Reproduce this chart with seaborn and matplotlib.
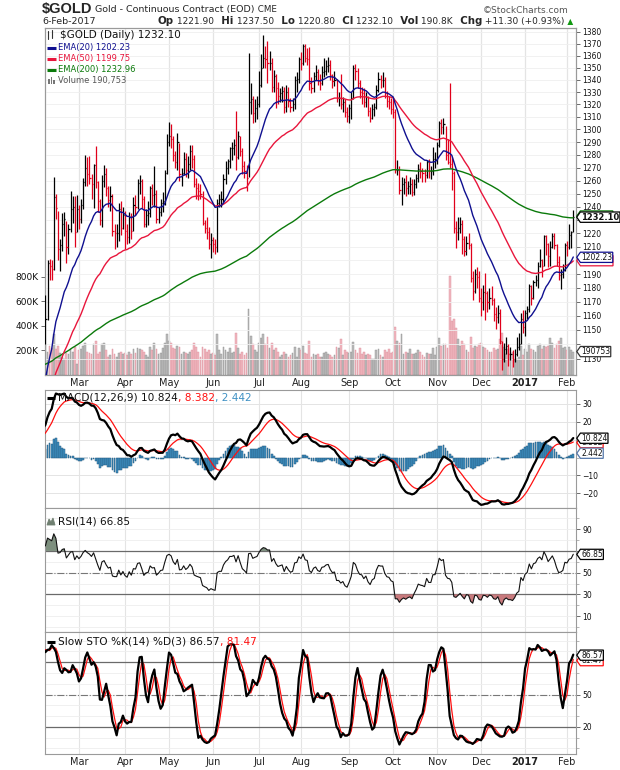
import numpy as np
import pandas as pd
import matplotlib
matplotlib.use('Agg')
import matplotlib.pyplot as plt
import matplotlib.ticker as mticker
from matplotlib.path import Path
import seaborn as sns

sns.set_theme(style='white')
plt.rcParams['font.family'] = ['DejaVu Sans']

W, H = 620, 770

# warm-up sessions off the left edge (14-Dec-2015 .. 4-Feb-2016)
warm_high = [1071, 1068, 1080, 1078, 1068, 1083, 1082, 1077, 1078, 1076, 1073, 1068, 1065,
             1082, 1083, 1095, 1112, 1113, 1101, 1096, 1091, 1092, 1092, 1099, 1107, 1108, 1102,
             1110, 1123, 1128, 1127, 1122,
             1131, 1133, 1147, 1160]
warm_low = [1056, 1058, 1060, 1047, 1048, 1065, 1071, 1065, 1068, 1066, 1063, 1057, 1052,
            1060, 1070, 1076, 1091, 1095, 1093, 1082, 1079, 1072, 1075, 1080, 1085, 1095, 1089,
            1094, 1104, 1115, 1110, 1104,
            1114, 1121, 1126, 1140]
warm_close = [1062, 1063, 1076, 1050, 1065, 1080, 1075, 1069, 1075, 1068, 1069, 1059, 1061,
              1075, 1078, 1091, 1108, 1098, 1096, 1086, 1087, 1073, 1090, 1089, 1106, 1097, 1096,
              1107, 1120, 1124, 1114, 1118,
              1128, 1128, 1141, 1155]

# visible sessions 5-Feb-2016 .. 6-Feb-2017, one row of numbers per month
high = [1175, 1200, 1201, 1200, 1263, 1250, 1237, 1216, 1235, 1236, 1229, 1227, 1252, 1248, 1248, 1249,
        1241, 1246, 1262, 1280, 1278, 1279, 1265, 1273, 1287, 1260, 1246, 1264, 1272, 1270, 1256, 1256, 1250, 1227, 1227, 1243, 1244, 1240,
        1237, 1227, 1236, 1235, 1247, 1249, 1261, 1264, 1261, 1248, 1238, 1244, 1256, 1257, 1271, 1253, 1240, 1246, 1251, 1268, 1296,
        1306, 1304, 1295, 1283, 1297, 1289, 1270, 1282, 1281, 1279, 1288, 1288, 1280, 1262, 1258, 1257, 1252, 1230, 1232, 1225, 1220,
        1217, 1216, 1246, 1250, 1252, 1265, 1275, 1277, 1286, 1290, 1292, 1315, 1299, 1295, 1285, 1275, 1272, 1362, 1337, 1327, 1324, 1327,
        1347, 1361, 1377, 1368, 1372, 1364, 1358, 1348, 1345, 1338, 1333, 1335, 1334, 1336, 1334, 1325, 1325, 1343, 1346, 1359,
        1363, 1370, 1370, 1366, 1367, 1342, 1346, 1352, 1349, 1345, 1351, 1358, 1356, 1359, 1356, 1345, 1347, 1341, 1330, 1345, 1326, 1324, 1318,
        1320, 1330, 1352, 1353, 1350, 1340, 1334, 1333, 1330, 1327, 1318, 1320, 1321, 1336, 1346, 1344, 1346, 1342, 1331, 1327, 1325,
        1326, 1316, 1276, 1271, 1263, 1262, 1264, 1260, 1263, 1261, 1261, 1265, 1273, 1274, 1270, 1269, 1276, 1277, 1271, 1286, 1282,
        1290, 1307, 1308, 1309, 1303, 1292, 1337, 1278, 1267, 1229, 1232, 1232, 1230, 1218, 1218, 1220, 1213, 1192, 1194, 1195, 1192,
        1180, 1182, 1191, 1178, 1180, 1181, 1173, 1166, 1168, 1165, 1142, 1141, 1145, 1140, 1138, 1136, 1137, 1145, 1148, 1162, 1164,
        1164, 1167, 1183, 1182, 1186, 1189, 1199, 1208, 1201, 1219, 1219, 1213, 1214, 1220, 1220, 1212, 1203, 1194, 1197, 1213,
        1214, 1227, 1222, 1237.5]
low = [1140, 1157, 1186, 1186, 1193, 1231, 1200, 1192, 1207, 1218, 1198, 1205, 1221, 1228, 1210, 1221,
       1223, 1228, 1238, 1256, 1256, 1257, 1246, 1239, 1254, 1236, 1226, 1225, 1255, 1248, 1240, 1237, 1218, 1208, 1210, 1214, 1219, 1223,
       1208, 1212, 1213, 1216, 1222, 1234, 1238, 1250, 1239, 1225, 1225, 1226, 1232, 1241, 1240, 1228, 1228, 1233, 1236, 1241, 1265,
       1287, 1285, 1275, 1270, 1268, 1260, 1256, 1264, 1263, 1262, 1268, 1270, 1255, 1246, 1245, 1246, 1226, 1220, 1216, 1208, 1202,
       1206, 1205, 1206, 1240, 1240, 1243, 1257, 1265, 1270, 1276, 1280, 1268, 1277, 1279, 1265, 1262, 1252, 1263, 1312, 1305, 1306, 1308,
       1318, 1334, 1350, 1350, 1337, 1348, 1330, 1330, 1317, 1320, 1322, 1322, 1313, 1314, 1318, 1314, 1315, 1316, 1330, 1337,
       1348, 1352, 1355, 1352, 1332, 1329, 1330, 1340, 1336, 1332, 1336, 1342, 1344, 1346, 1340, 1333, 1335, 1322, 1319, 1316, 1314, 1310, 1306,
       1305, 1308, 1324, 1340, 1333, 1325, 1320, 1318, 1318, 1311, 1306, 1308, 1311, 1316, 1330, 1333, 1334, 1325, 1318, 1316, 1312,
       1309, 1266, 1264, 1250, 1241, 1250, 1248, 1250, 1250, 1248, 1249, 1254, 1259, 1262, 1259, 1259, 1262, 1262, 1261, 1264, 1270,
       1273, 1286, 1296, 1296, 1276, 1273, 1270, 1253, 1220, 1209, 1215, 1220, 1205, 1203, 1204, 1208, 1184, 1171, 1176, 1180, 1170,
       1160, 1164, 1157, 1163, 1165, 1168, 1156, 1151, 1155, 1140, 1122, 1128, 1133, 1125, 1129, 1124, 1128, 1132, 1136, 1140, 1148,
       1146, 1158, 1163, 1168, 1172, 1181, 1180, 1195, 1188, 1196, 1204, 1195, 1196, 1209, 1208, 1196, 1186, 1179, 1187, 1192,
       1203, 1208, 1209, 1220.8]
close = [1158, 1198, 1196, 1194, 1247, 1239, 1208, 1211, 1227, 1231, 1210, 1223, 1238, 1240, 1221, 1238,
         1231, 1241, 1259, 1270, 1265, 1262, 1257, 1272, 1259, 1244, 1230, 1260, 1265, 1254, 1245, 1248, 1222, 1220, 1220, 1238, 1224, 1234,
         1222, 1217, 1232, 1222, 1241, 1240, 1258, 1260, 1246, 1227, 1234, 1235, 1254, 1249, 1250, 1231, 1236, 1243, 1244, 1266, 1290,
         1295, 1292, 1280, 1274, 1290, 1265, 1266, 1277, 1268, 1273, 1283, 1277, 1257, 1254, 1252, 1250, 1228, 1224, 1221, 1212, 1215,
         1212, 1210, 1243, 1246, 1246, 1261, 1270, 1275, 1285, 1285, 1288, 1278, 1295, 1283, 1271, 1267, 1262, 1322, 1324, 1313, 1317, 1320,
         1336, 1350, 1358, 1357, 1354, 1354, 1334, 1343, 1333, 1327, 1329, 1331, 1318, 1330, 1323, 1318, 1320, 1340, 1341, 1357,
         1354, 1368, 1358, 1357, 1337, 1333, 1343, 1346, 1339, 1337, 1346, 1347, 1351, 1352, 1344, 1339, 1340, 1325, 1325, 1320, 1322, 1314, 1311,
         1317, 1325, 1350, 1347, 1337, 1330, 1329, 1322, 1326, 1315, 1309, 1316, 1318, 1332, 1341, 1340, 1340, 1329, 1323, 1322, 1316,
         1314, 1268, 1268, 1253, 1257, 1259, 1254, 1256, 1257, 1251, 1257, 1262, 1269, 1267, 1266, 1264, 1274, 1267, 1267, 1277, 1277,
         1288, 1305, 1302, 1304, 1280, 1274, 1273, 1266, 1224, 1221, 1224, 1227, 1216, 1207, 1213, 1211, 1187, 1178, 1190, 1188, 1173,
         1170, 1177, 1176, 1170, 1173, 1171, 1161, 1159, 1162, 1142, 1130, 1137, 1139, 1133, 1133, 1130, 1133, 1138, 1140, 1158, 1152,
         1162, 1165, 1181, 1173, 1184, 1186, 1196, 1200, 1196, 1218, 1212, 1203, 1210, 1218, 1211, 1199, 1189, 1190, 1193, 1211,
         1210, 1219, 1220.8, 1232.1]
volume_k = [250, 190, 240, 220, 330, 210, 240, 180, 150, 130, 180, 170, 210, 190, 230, 90,
            200, 210, 240, 260, 190, 180, 170, 250, 280, 170, 190, 250, 260, 200, 150, 160, 210, 170, 150, 180, 190, 170,
            180, 160, 190, 170, 210, 180, 220, 210, 200, 190, 160, 150, 230, 200, 260, 210, 170, 180, 220, 260, 330,
            280, 260, 220, 210, 240, 230, 170, 190, 180, 170, 190, 200, 260, 230, 190, 150, 230, 210, 190, 200, 170,
            180, 160, 330, 200, 170, 230, 200, 190, 220, 180, 190, 340, 220, 170, 190, 160, 180, 540, 320, 250, 200, 190,
            260, 300, 330, 250, 310, 220, 260, 200, 220, 190, 150, 160, 190, 170, 150, 160, 180, 230, 150, 220,
            200, 240, 180, 170, 280, 150, 170, 160, 170, 150, 150, 180, 190, 170, 160, 150, 160, 230, 220, 290, 160, 200, 190,
            180, 190, 270, 200, 180, 220, 170, 190, 160, 170, 160, 130, 130, 200, 210, 160, 150, 200, 190, 210, 180,
            190, 390, 280, 260, 330, 170, 190, 180, 210, 170, 170, 180, 200, 190, 160, 150, 180, 170, 170, 220, 160,
            230, 300, 240, 250, 250, 220, 810, 440, 460, 380, 290, 240, 280, 250, 200, 190, 310, 220, 240, 230, 250,
            260, 230, 220, 200, 190, 190, 220, 200, 210, 290, 340, 230, 170, 210, 180, 190, 120, 130, 150, 240, 160,
            210, 190, 250, 210, 200, 190, 240, 250, 210, 240, 230, 240, 300, 260, 220, 250, 280, 300, 220, 230,
            200, 230, 200, 190.753]

ema50_seed = 1085
ema200_seed = 1140

holidays = ['2015-12-25', '2016-01-01', '2016-01-18', '2016-02-15', '2016-03-25', '2016-05-30',
            '2016-07-04', '2016-09-05', '2016-11-24', '2016-12-26', '2017-01-02', '2017-01-16']
month_labels = ['Mar', 'Apr', 'May', 'Jun', 'Jul', 'Aug', 'Sep', 'Oct', 'Nov', 'Dec', '2017', 'Feb']
price_ticks = list(range(1130, 1390, 10))
hidden_price_labels = [1140, 1200, 1230]   # sit under the value tags
vol_ticks = [200000, 400000, 600000, 800000]
vol_labels = ['200K', '400K', '600K', '800K']

# ---------------------------------------------------------------- frame
days = pd.bdate_range('2015-12-14', '2017-02-06')
days = days[~days.isin(pd.to_datetime(holidays))]
n_warm = len(warm_close)
df = pd.DataFrame({'date': days,
                   'high': np.array(warm_high + high, float),
                   'low': np.array(warm_low + low, float),
                   'close': np.array(warm_close + close, float)})
df['x'] = np.arange(len(df)) - n_warm
c = df['close']


def seeded_ema(s, span, seed):
    s2 = pd.concat([pd.Series([float(seed)]), s], ignore_index=True)
    return s2.ewm(span=span, adjust=False).mean().iloc[1:].to_numpy()


df['ema20'] = c.ewm(span=20, adjust=False).mean()
df['ema50'] = seeded_ema(c, 50, ema50_seed)
df['ema200'] = seeded_ema(c, 200, ema200_seed)
df['macd'] = c.ewm(span=12, adjust=False).mean() - c.ewm(span=26, adjust=False).mean()
df['sig'] = df['macd'].ewm(span=9, adjust=False).mean()
df['histo'] = df['macd'] - df['sig']
delta = c.diff()
gain = delta.clip(lower=0).ewm(alpha=1 / 14, adjust=False).mean()
loss = (-delta.clip(upper=0)).ewm(alpha=1 / 14, adjust=False).mean()
df['rsi'] = 100 - 100 / (1 + gain / loss)
hh = df['high'].rolling(14).max()
ll = df['low'].rolling(14).min()
fast_k = 100 * (c - ll) / (hh - ll)
df['slow_k'] = fast_k.rolling(3).mean()
df['slow_d'] = df['slow_k'].rolling(3).mean()
df['up'] = c >= c.shift(1)

vis = df[df['x'] >= 0].copy()
vis['volume'] = np.array(volume_k) * 1000
line_df = df[df['x'] >= -3]
LX = line_df['x'].to_numpy()
month_x = vis.groupby(vis['date'].dt.to_period('M'))['x'].min().to_numpy()[1:]
XLO, XHI = -0.2, 253.3

# ---------------------------------------------------------------- figure
fig = plt.figure(figsize=(W / 100, H / 100), dpi=100)


def rect(x0, y0, x1, y1):
    return [x0 / W, 1 - y1 / H, (x1 - x0) / W, (y1 - y0) / H]


GRID = '#e4e4e4'
EDGE = '#9a9a9a'


def frame(ax):
    ax.set_xlim(XLO, XHI)
    ax.set_xticks(month_x)
    ax.set_xticklabels([])
    ax.tick_params(axis='x', length=0)
    ax.grid(False)
    for x in month_x:
        ax.axvline(x, color=GRID, lw=0.8, zorder=0)
    for s in ax.spines.values():
        s.set_color(EDGE)
        s.set_linewidth(0.8)
    ax.yaxis.tick_right()
    ax.tick_params(axis='y', which='major', direction='out', length=3, width=0.6,
                   colors='#555555', labelcolor='#111111', labelsize=5.5, pad=1.5)
    ax.tick_params(axis='y', which='minor', direction='out', length=2, width=0.5, colors='#999999')


def month_labels_on(ax):
    ax.set_xticklabels(month_labels, fontsize=7, color='#222222')
    ax.tick_params(axis='x', pad=2.5)
    for lab in ax.get_xticklabels():
        if lab.get_text() == '2017':
            lab.set_fontweight('bold')


def tag_shape(x0, y0, width, height, mutation_size):
    pad = 0.08 * mutation_size
    x0, y0 = x0 - pad, y0 - pad
    x1, y1 = x0 + width + 2 * pad, y0 + height + 2 * pad
    tip = 0.35 * (y1 - y0)
    ym = (y0 + y1) / 2
    verts = [(x0 - tip, ym), (x0, y0), (x1, y0), (x1, y1), (x0, y1), (x0 - tip, ym), (x0 - tip, ym)]
    return Path(verts, closed=True)


def tag(ax, y, text, edge, bold=False, ytrans=None, size=5.5):
    ax.annotate(text, xy=(1, y), xycoords=(ax.transAxes, ytrans or ax.transData),
                xytext=(3.6, 0), textcoords='offset points', ha='left', va='center',
                fontsize=size, fontweight='bold' if bold else 'normal', color='#111111',
                bbox=dict(boxstyle=tag_shape, fc='white', ec=edge, lw=0.9),
                annotation_clip=False, zorder=20)


# ---- price + volume panel
main_rect = rect(45, 28, 576, 375)
ax_vol = fig.add_axes(main_rect)
ax = fig.add_axes(main_rect)
ax.patch.set_alpha(0)

frame(ax_vol)
ax_vol.bar(vis['x'], vis['volume'], width=0.85,
           color=np.where(vis['up'], '#bdbdbd', '#f2b8c0'),
           edgecolor=np.where(vis['up'], '#8f8f8f', '#d9909b'), linewidth=0.3)
ax_vol.set_ylim(0, 2.826e6)
ax_vol.yaxis.tick_left()
ax_vol.set_yticks(vol_ticks)
ax_vol.set_yticklabels(vol_labels)
ax_vol.tick_params(axis='y', labelsize=6.5, length=3, pad=1.5, direction='out', colors='#555555', labelcolor='#111111')

frame(ax)
ax.set_yscale('log')
ax.set_ylim(1118.8, 1383.1)
ax.set_yticks(price_ticks)
ax.set_yticklabels(['' if p in hidden_price_labels else str(p) for p in price_ticks])
ax.yaxis.set_minor_locator(mticker.NullLocator())
for p in price_ticks:
    ax.axhline(p, color='#efefef', lw=0.6, zorder=0)
bar_col = np.where(vis['up'], '#000000', '#e0001b')
ax.vlines(vis['x'], vis['low'], vis['high'], colors=bar_col, lw=0.9, zorder=3)
ax.hlines(vis['close'], vis['x'], vis['x'] + 0.55, colors=bar_col, lw=0.9, zorder=3)
sns.lineplot(x=LX, y=line_df['ema200'].to_numpy(), ax=ax, color='#0b7a0b', lw=1.0, zorder=4)
sns.lineplot(x=LX, y=line_df['ema50'].to_numpy(), ax=ax, color='#e8163c', lw=1.0, zorder=4)
sns.lineplot(x=LX, y=line_df['ema20'].to_numpy(), ax=ax, color='#101090', lw=1.0, zorder=4)
ax.set_xlim(XLO, XHI)
month_labels_on(ax)

tag(ax, 1199.75, '1199.75', '#e8163c')
tag(ax, 1202.23, '1202.23', '#101090')
tag(ax, 1232.96, '1232.96', '#0b7a0b')
tag(ax, 1232.10, '1232.10', '#000000', bold=True, size=6)
tag(ax, 190753, '190753', '#333333', ytrans=ax_vol.transData)

# ---- MACD panel
ax_m = fig.add_axes(rect(45, 390, 576, 508))
frame(ax_m)
for v in [-20, -10, 10, 20, 30]:
    ax_m.axhline(v, color=GRID, lw=0.7, zorder=0)
ax_m.bar(vis['x'], vis['histo'], width=0.85, color='#3f91c4', edgecolor='#24587c', linewidth=0.35, zorder=2)
sns.lineplot(x=LX, y=line_df['sig'].to_numpy(), ax=ax_m, color='#ff1010', lw=0.9, zorder=3)
sns.lineplot(x=LX, y=line_df['macd'].to_numpy(), ax=ax_m, color='#000000', lw=1.6, zorder=4)
ax_m.set_xlim(XLO, XHI)
ax_m.set_ylim(-28.2, 37.8)
ax_m.set_yticks([-20, -10, 20, 30])
ax_m.set_yticks([0, 10], minor=True)
tag(ax_m, 8.382, '8.382', '#ff1010')
tag(ax_m, 10.824, '10.824', '#000000')
tag(ax_m, 2.442, '2.442', '#5577aa')

# ---- RSI panel
ax_r = fig.add_axes(rect(45, 508, 576, 632))
frame(ax_r)
for v in range(0, 101, 10):
    ax_r.axhline(v, color='#eeeeee', lw=0.6, zorder=0)
ax_r.axhline(70, color='#6a6a6a', lw=0.9, zorder=1)
ax_r.axhline(30, color='#6a6a6a', lw=0.9, zorder=1)
ax_r.axhline(50, color='#777777', lw=0.8, ls='-.', zorder=1)
rv = line_df['rsi'].to_numpy()
ax_r.fill_between(LX, 70, rv, where=rv > 70, interpolate=True, color='#7d8f7e', lw=0, zorder=2)
ax_r.fill_between(LX, 30, rv, where=rv < 30, interpolate=True, color='#c87a7d', lw=0, zorder=2)
sns.lineplot(x=LX, y=rv, ax=ax_r, color='#111111', lw=0.8, zorder=3)
ax_r.set_xlim(XLO, XHI)
ax_r.set_ylim(-4.7, 109.6)
ax_r.set_yticks([10, 30, 50, 70, 90])
ax_r.set_yticks(range(0, 101, 10), minor=True)
ax_r.set_yticklabels(['10', '30', '50', '', '90'])
tag(ax_r, 66.85, '66.85', '#000000')

# ---- Slow stochastic panel
ax_s = fig.add_axes(rect(45, 632, 576, 754))
frame(ax_s)
for v in range(0, 101, 10):
    ax_s.axhline(v, color='#eeeeee', lw=0.6, zorder=0)
ax_s.axhline(80, color='#6a6a6a', lw=0.9, zorder=1)
ax_s.axhline(20, color='#6a6a6a', lw=0.9, zorder=1)
ax_s.axhline(50, color='#777777', lw=0.8, ls='-.', zorder=1)
sns.lineplot(x=LX, y=line_df['slow_d'].to_numpy(), ax=ax_s, color='#ff1010', lw=0.9, zorder=3)
sns.lineplot(x=LX, y=line_df['slow_k'].to_numpy(), ax=ax_s, color='#000000', lw=1.6, zorder=4)
ax_s.set_xlim(XLO, XHI)
ax_s.set_ylim(-5.3, 108.1)
ax_s.set_yticks([20, 50])
ax_s.set_yticks(range(0, 101, 10), minor=True)
month_labels_on(ax_s)
tag(ax_s, 81.47, '81.47', '#ff1010')
tag(ax_s, 86.57, '86.57', '#000000')

for a in (ax, ax_vol, ax_m, ax_r, ax_s):
    a.set_xlabel('')
    a.set_ylabel('')

# ---------------------------------------------------------------- texts
canvas = fig.add_axes([0, 0, 1, 1])
canvas.set_xlim(0, W)
canvas.set_ylim(H, 0)
canvas.axis('off')
canvas.set_zorder(30)


def chain(x, y, parts):
    prev = None
    for s, kw in parts:
        if prev is None:
            prev = canvas.text(x, y, s, va='center', ha='left', **kw)
        else:
            prev = canvas.annotate(s, xy=(1, 0.5), xycoords=prev, va='center', ha='left', **kw)
    return prev


def dash(x0, x1, y, color, lw=2.2):
    canvas.plot([x0, x1], [y, y], color=color, lw=lw, solid_capstyle='butt')


chain(42, 9.5, [('$GOLD', dict(fontsize=10.5, fontweight='bold', family=['Liberation Sans', 'DejaVu Sans'])),
                (' Gold - Continuous Contract (EOD)', dict(fontsize=6.8)),
                (' CME', dict(fontsize=6.3))])
canvas.text(569, 10.5, '\u00a9StockCharts.com', fontsize=6.5, color='#555555', va='center', ha='right')
canvas.text(42, 21.5, '6-Feb-2017', fontsize=6.8, va='center', ha='left')
bold8 = dict(fontsize=7.4, fontweight='bold')
reg7 = dict(fontsize=6.5)
chain(158, 21.5, [('Op', bold8), (' 1221.90', reg7), ('  Hi', bold8), (' 1237.50', reg7),
                  ('  Lo', bold8), (' 1220.80', reg7), ('  Cl', bold8), (' 1232.10', reg7),
                  ('  Vol', bold8), (' 190.8K', reg7), ('  Chg', bold8), (' +11.30 (+0.93%)', reg7),
                  (' \u25b2', dict(fontsize=5.5, color='#119911'))])

# main legend
canvas.plot([48, 48], [31, 39], color='#333333', lw=0.8)
canvas.plot([52, 52], [30, 38], color='#333333', lw=0.8)
canvas.text(60, 35, '$GOLD (Daily) 1232.10', fontsize=7.5, va='center', ha='left', color='#111111')
dash(47, 56, 47.8, '#101090')
canvas.text(58, 47.8, 'EMA(20) 1202.23', fontsize=6, va='center', ha='left', color='#101090')
dash(47, 56, 58.8, '#e8163c')
canvas.text(58, 58.8, 'EMA(50) 1199.75', fontsize=6, va='center', ha='left', color='#e8163c')
dash(47, 56, 69.8, '#0b7a0b')
canvas.text(58, 69.8, 'EMA(200) 1232.96', fontsize=6, va='center', ha='left', color='#0b7a0b')
for bx, bh in [(48, 5), (50.5, 7), (53, 4)]:
    canvas.add_patch(plt.Rectangle((bx, 84 - bh), 1.8, bh, color='#777777', lw=0))
canvas.text(58, 80.5, 'Volume 190,753', fontsize=6, va='center', ha='left', color='#555555')

# panel legends
dash(47, 55, 397.5, '#000000')
chain(58, 397.5, [('MACD(12,26,9) 10.824', dict(fontsize=7.6, color='#111111')),
                  (', 8.382', dict(fontsize=7.6, color='#ff1010')),
                  (', 2.442', dict(fontsize=7.6, color='#3f91c4'))])
canvas.fill([47, 49, 51, 53, 55, 55, 47], [525, 519, 522, 518, 525, 525, 525], color='#6f7f70', lw=0.6)
canvas.text(58, 521.5, 'RSI(14) 66.85', fontsize=7.6, va='center', ha='left', color='#111111')
dash(47, 55, 641.5, '#000000')
chain(58, 641.5, [('Slow STO %K(14) %D(3) 86.57', dict(fontsize=7.6, color='#111111')),
                  (', 81.47', dict(fontsize=7.6, color='#ff1010'))])

fig.savefig('out.png', dpi=100)
